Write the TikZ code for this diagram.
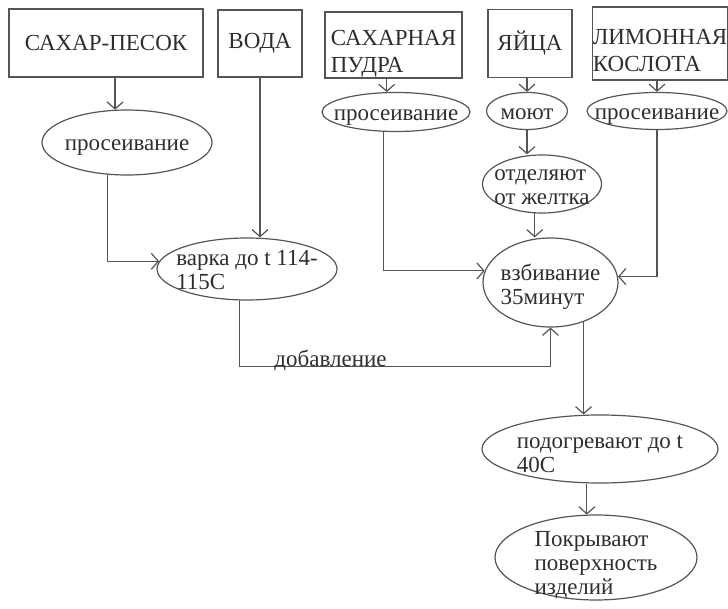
\documentclass[tikz,border=0pt]{standalone}
\usepackage{fontspec}
\setmainfont{Liberation Serif}
\usetikzlibrary{arrows.meta, shapes.geometric, positioning}
\definecolor{linegray}{HTML}{555555}
\definecolor{textgray}{HTML}{2E2E2E}
\tikzset{
  box/.style={draw=linegray, line width=1.2pt, rectangle, inner sep=0pt, align=left, text=textgray, font=\fontsize{23}{27}\selectfont},
  el/.style={draw=linegray, line width=1.2pt, ellipse, inner xsep=-15pt, inner ysep=-20pt, align=left, text=textgray, font=\fontsize{23}{24}\selectfont,
    execute at begin node={\rule{0pt}{24pt}}, execute at end node={\rule[-7pt]{0pt}{7pt}}},
  drop/.style={execute at begin node={\rule{0pt}{#1}}},
  pto/.style={-{Straight Barb[length=7pt,width=16pt]}, line width=1.2pt, linegray},
  lbl/.style={inner sep=0pt, text=textgray, font=\fontsize{23}{24}\selectfont}
}

\begin{document}
\begin{tikzpicture}[x=1pt, y=-1pt]
  \useasboundingbox (0,0) rectangle (728,609);

  % raw materials
  \node[box, minimum width=194pt, minimum height=68pt] (sugar) at (106,43) {САХАР-ПЕСОК};
  \node[box, minimum width=84pt, minimum height=67pt] (water) at (260,43.5) {ВОДА};
  \node[box, minimum width=137pt, minimum height=66pt, drop=60pt] (powder) at (393.5,45) {САХАРНАЯ\\ПУДРА};
  \node[box, minimum width=84pt, minimum height=68pt] (eggs) at (530,43.5) {ЯЙЦА};
  \node[box, minimum width=134pt, minimum height=73pt, drop=56pt] (lemon) at (660,43.5) {ЛИМОННАЯ\\КОСЛОТА};

  % operations
  \node[el, minimum width=170pt, minimum height=65pt] (sift1) at (127,142.5) {просеивание};
  \node[el, minimum width=180pt, minimum height=62pt, drop=49pt] (varka) at (247,269) {варка до t 114-\\115С};
  \node[el, minimum width=148pt, minimum height=39pt] (sift2) at (396,112) {просеивание};
  \node[el, minimum width=81pt, minimum height=37pt] (wash) at (527,111) {моют};
  \node[el, minimum width=119pt, minimum height=58pt, drop=48pt] (separate) at (542,184) {отделяют\\от желтка};
  \node[el, minimum width=140pt, minimum height=37pt] (sift3) at (657,111) {просеивание};
  \node[el, minimum width=135pt, minimum height=89pt, drop=51pt] (whip) at (550.5,282.5) {взбивание\\35минут};
  \node[el, minimum width=236pt, minimum height=68pt, drop=53pt] (warm) at (600,449) {подогревают до t\\40С};
  \node[el, minimum width=202pt, minimum height=85pt, drop=80pt] (cover) at (596,557.5) {Покрывают\\поверхность\\изделий};

  % flows
  \draw[pto] (sugar.south -| sift1.110) -- (sift1.110);
  \draw[pto] (sift1.239) |- (varka.175);
  \draw[pto] (water.south) -- (water.south |- varka.north);
  \draw[pto] (varka.257) |- node[lbl, pos=.646, anchor=base] (addlbl) {добавление} ([yshift=-39pt]whip.south) -- (whip.south);
  \draw[pto] (powder.south -| sift2.115) -- (sift2.115);
  \draw[pto] (sift2.238) |- (whip.170);
  \draw[pto] (eggs.south -| wash.north) -- (wash.north);
  \draw[pto] (wash.south) -- (wash.south |- separate.north);
  \draw[pto] (separate.256) -- (separate.256 |- whip.north);
  \draw[pto] (lemon.south -| sift3.north) -- (sift3.north);
  \draw[pto] (sift3.south) |- (whip.5);
  \draw[pto] (whip.-50) -- (whip.-50 |- warm.north);
  \draw[pto] (warm.south -| cover.102) -- (cover.102);
\end{tikzpicture}
\end{document}
